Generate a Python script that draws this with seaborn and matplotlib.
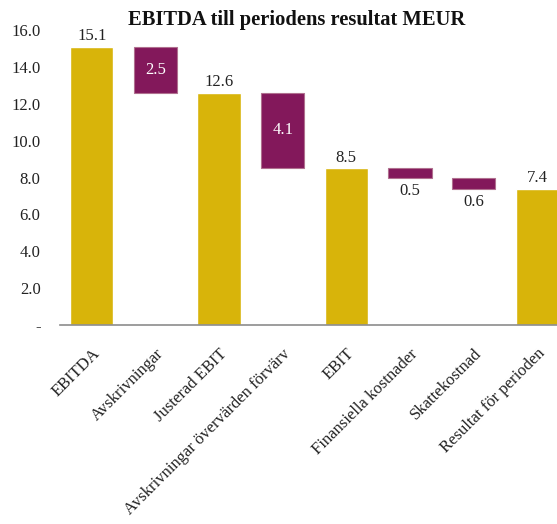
import numpy as np
import pandas as pd
import matplotlib
matplotlib.use("Agg")
import matplotlib.pyplot as plt
import seaborn as sns

categories = ["EBITDA", "Avskrivningar", "Justerad EBIT",
              "Avskrivningar övervärden förvärv", "EBIT",
              "Finansiella kostnader", "Skattekostnad", "Resultat för perioden"]
values = [15.1, 2.5, 12.6, 4.1, 8.5, 0.5, 0.6, 7.4]
is_total = [True, False, True, False, True, False, False, True]
y_ticks = [0, 2, 4, 6, 8, 10, 12, 14, 16]
y_tick_labels = ["-", "2.0", "4.0", "6.0", "8.0", "10.0", "12.0", "14.0", "16.0"]

GOLD = "#D8B40A"
PURPLE = "#83185B"
TEXT = "#222222"

sns.set_style("white")
plt.rcParams["font.family"] = ["Liberation Serif", "DejaVu Serif"]

# running level -> bottom of every floating bar
bottoms = []
level = 0.0
for v, tot in zip(values, is_total):
    if tot:
        bottoms.append(0.0)
        level = v
    else:
        level = level - v
        bottoms.append(level)

df = pd.DataFrame({"kategori": categories, "varde": values,
                   "botten": bottoms, "total": is_total})
totals = df.assign(varde=np.where(df["total"], df["varde"], 0.0))

fig = plt.figure(figsize=(5.57, 5.24), dpi=100)
ax = fig.add_axes([60 / 557, (524 - 325) / 524, 509 / 557, 295 / 524])

sns.barplot(data=totals, x="kategori", y="varde", color=GOLD, width=0.68,
            saturation=1, errorbar=None, ax=ax)
steps = df[~df["total"]]
ax.bar(steps.index, steps["varde"], bottom=steps["botten"], width=0.68,
       color=PURPLE, edgecolor="#B0708F", linewidth=0.8)

for i, row in df.iterrows():
    top = row["botten"] + row["varde"]
    txt = f"{row['varde']:.1f}"
    if row["total"]:
        ax.text(i, top + 0.15, txt, ha="center", va="bottom", fontsize=12, color=TEXT)
    elif row["varde"] > 1:
        ax.text(i, row["botten"] + row["varde"] / 2, txt, ha="center", va="center",
                fontsize=12, color="white")
    else:
        ax.text(i, row["botten"] - 0.3, txt, ha="center", va="top", fontsize=12, color=TEXT)

ax.set_xlim(-0.5, 7.5)
ax.set_ylim(0, 16)
ax.set_yticks(y_ticks)
ax.set_yticklabels(y_tick_labels, fontsize=12, color=TEXT)
ax.tick_params(axis="y", length=0, pad=14)

ax.set_xticks(np.arange(-0.5, 8, 1))
ax.set_xticklabels([])
ax.tick_params(axis="x", which="major", length=6, color="#8c8c8c", width=1)
ax.set_xticks(range(len(categories)), minor=True)
ax.set_xticklabels(categories, minor=True, rotation=45, ha="right",
                   rotation_mode="anchor", fontsize=12, color=TEXT)
ax.tick_params(axis="x", which="minor", length=0, pad=15)
ax.set_xlabel("")
ax.set_ylabel("")

for s in ["left", "right", "top"]:
    ax.spines[s].set_visible(False)
ax.spines["bottom"].set_color("#8c8c8c")
ax.spines["bottom"].set_linewidth(1.2)

fig.text(297 / 557, 1 - 20 / 524, "EBITDA till periodens resultat MEUR",
         ha="center", va="center", fontsize=14.8, fontweight="bold", color="#111111")

fig.savefig("out.png", dpi=100)
